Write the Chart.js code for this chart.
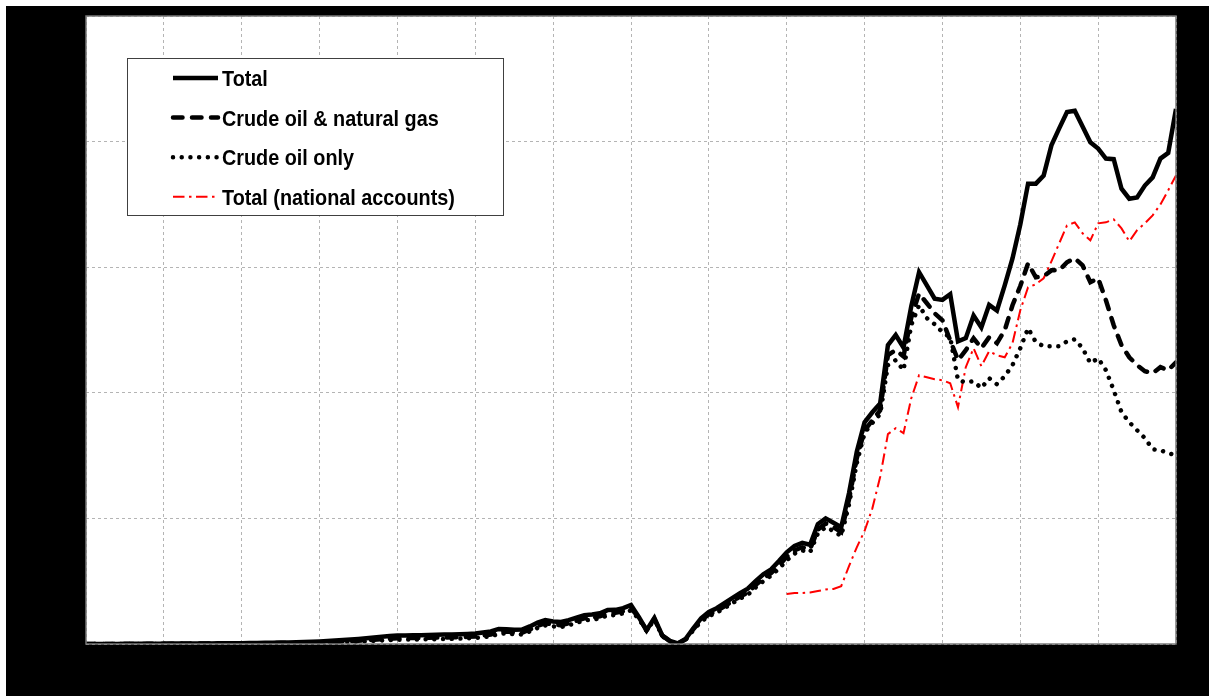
<!DOCTYPE html>
<html>
<head>
<meta charset="utf-8">
<script src="https://cdn.jsdelivr.net/npm/chart.js@4/dist/chart.umd.min.js"></script>
<style>
  html, body { margin: 0; padding: 0; background: #000; }
  #wrap { width: 1209px; height: 696px; }
  canvas { display: block; }
</style>
</head>
<body>
<div id="wrap"><canvas id="chart" width="1209" height="696"></canvas></div>
<script>
// Annual series, 1875-2015
const firstYear = 1875;
const years = Array.from({ length: 141 }, (_, i) => firstYear + i);
const gridYears = [1875, 1885, 1895, 1905, 1915, 1925, 1935, 1945, 1955, 1965, 1975, 1985, 1995, 2005, 2015];
const valueTicks = [0, 1, 2, 3, 4, 5];

const totalValues = [
  0, 0, 0, 0, 0, 0.001, 0.001, 0.001, 0.002, 0.002,
  0.002, 0.003, 0.003, 0.003, 0.004, 0.004, 0.004, 0.005, 0.005, 0.006,
  0.006, 0.007, 0.008, 0.009, 0.010, 0.011, 0.012, 0.013, 0.015, 0.017,
  0.020, 0.023, 0.027, 0.031, 0.035, 0.040, 0.046, 0.052, 0.058, 0.063,
  0.068, 0.068, 0.069, 0.070, 0.071, 0.073, 0.075, 0.076, 0.078, 0.080,
  0.083, 0.092, 0.100, 0.120, 0.118, 0.113, 0.115, 0.140, 0.170, 0.190,
  0.180, 0.175, 0.190, 0.210, 0.230, 0.235, 0.245, 0.270, 0.272, 0.285,
  0.310, 0.215, 0.110, 0.207, 0.070, 0.025, 0.004, 0.040, 0.125, 0.205,
  0.255, 0.285, 0.325, 0.365, 0.405, 0.440, 0.500, 0.555, 0.595, 0.660,
  0.730, 0.780, 0.805, 0.790, 0.955, 1.000, 0.965, 0.930, 1.200, 1.530,
  1.765, 1.845, 1.915, 2.380, 2.460, 2.360, 2.690, 2.960, 2.855, 2.750,
  2.740, 2.785, 2.410, 2.435, 2.615, 2.520, 2.700, 2.655, 2.855, 3.070,
  3.340, 3.665, 3.665, 3.730, 3.970, 4.105, 4.235, 4.245, 4.120, 3.995,
  3.945, 3.865, 3.860, 3.625, 3.545, 3.555, 3.650, 3.715, 3.865, 3.910, 4.260
];

const crudeGasValues = [
  0, 0, 0, 0, 0, 0, 0, 0, 0.001, 0.001,
  0.001, 0.002, 0.002, 0.002, 0.003, 0.003, 0.003, 0.004, 0.004, 0.004,
  0.005, 0.005, 0.006, 0.006, 0.007, 0.007, 0.008, 0.009, 0.010, 0.011,
  0.013, 0.015, 0.017, 0.020, 0.023, 0.026, 0.030, 0.034, 0.038, 0.042,
  0.046, 0.047, 0.048, 0.049, 0.050, 0.051, 0.052, 0.053, 0.055, 0.057,
  0.060, 0.068, 0.076, 0.095, 0.100, 0.092, 0.090, 0.115, 0.145, 0.165,
  0.155, 0.150, 0.165, 0.185, 0.205, 0.210, 0.220, 0.245, 0.248, 0.262,
  0.285, 0.210, 0.108, 0.200, 0.068, 0.022, 0.003, 0.036, 0.118, 0.190,
  0.235, 0.262, 0.300, 0.340, 0.378, 0.410, 0.470, 0.520, 0.565, 0.625,
  0.695, 0.745, 0.770, 0.755, 0.910, 0.960, 0.930, 0.890, 1.150, 1.480,
  1.700, 1.780, 1.860, 2.300, 2.340, 2.290, 2.600, 2.790, 2.713, 2.633,
  2.578, 2.418, 2.260, 2.339, 2.434, 2.355, 2.442, 2.395, 2.498, 2.697,
  2.850, 3.031, 2.920, 2.928, 2.975, 2.975, 3.039, 3.071, 3.015, 2.880,
  2.912, 2.737, 2.538, 2.379, 2.283, 2.220, 2.172, 2.156, 2.204, 2.180, 2.243
];

const crudeOilValues = [
  0, 0, 0, 0, 0, 0, 0, 0, 0, 0.001,
  0.001, 0.001, 0.001, 0.002, 0.002, 0.002, 0.002, 0.003, 0.003, 0.003,
  0.004, 0.004, 0.004, 0.005, 0.005, 0.006, 0.006, 0.007, 0.008, 0.009,
  0.010, 0.011, 0.013, 0.015, 0.017, 0.019, 0.022, 0.025, 0.028, 0.031,
  0.034, 0.035, 0.036, 0.037, 0.038, 0.039, 0.040, 0.041, 0.043, 0.045,
  0.048, 0.055, 0.062, 0.080, 0.085, 0.078, 0.076, 0.100, 0.128, 0.148,
  0.140, 0.135, 0.150, 0.168, 0.188, 0.193, 0.203, 0.228, 0.230, 0.244,
  0.268, 0.200, 0.104, 0.195, 0.064, 0.020, 0.002, 0.032, 0.110, 0.178,
  0.222, 0.250, 0.285, 0.325, 0.362, 0.392, 0.450, 0.500, 0.545, 0.600,
  0.665, 0.720, 0.745, 0.730, 0.880, 0.930, 0.900, 0.860, 1.110, 1.440,
  1.680, 1.760, 1.830, 2.220, 2.260, 2.180, 2.540, 2.697, 2.594, 2.546,
  2.482, 2.442, 2.100, 2.084, 2.092, 2.037, 2.116, 2.068, 2.132, 2.220,
  2.355, 2.514, 2.403, 2.371, 2.371, 2.371, 2.410, 2.426, 2.355, 2.236,
  2.275, 2.180, 2.021, 1.846, 1.766, 1.702, 1.639, 1.551, 1.543, 1.519, 1.504
];

// National accounts series starts in 1965
const nationalFirstYear = 1965;
const nationalValues = [
  0.398, 0.406, 0.406, 0.410, 0.422, 0.434, 0.438, 0.460, 0.620, 0.770,
  0.900, 1.080, 1.330, 1.671, 1.718, 1.679, 1.957, 2.140, 2.124, 2.108,
  2.100, 2.076, 1.885, 2.204, 2.355, 2.212, 2.331, 2.299, 2.283, 2.395,
  2.657, 2.840, 2.864, 2.912, 3.047, 3.190, 3.333, 3.357, 3.270, 3.214,
  3.349, 3.357, 3.381, 3.309, 3.206, 3.294, 3.349, 3.413, 3.500, 3.612, 3.731
];

const seriesLabels = ['Total', 'Crude oil & natural gas', 'Crude oil only', 'Total (national accounts)'];

const toPoints = (start, vals) => vals.map((v, i) => ({ x: start + i, y: v }));

// Page frame: black surround, white plot area
const framePlugin = {
  id: 'frame',
  beforeDraw(chart) {
    const { ctx, width, height, chartArea: a } = chart;
    ctx.save();
    ctx.fillStyle = '#ffffff';
    ctx.fillRect(0, 0, width, height);
    ctx.fillStyle = '#000000';
    ctx.fillRect(6, 6, width - 6, height - 6);
    ctx.fillStyle = '#ffffff';
    ctx.fillRect(a.left, a.top, a.right - a.left, a.bottom - a.top);
    ctx.restore();
  },
  afterDatasetsDraw(chart) {
    const { ctx, chartArea: a } = chart;
    ctx.save();
    ctx.strokeStyle = '#7a7a7a';
    ctx.lineWidth = 1.5;
    ctx.strokeRect(a.left, a.top, a.right - a.left, a.bottom - a.top);
    ctx.restore();
  }
};

// Boxed legend inside the plot area
const boxLegendPlugin = {
  id: 'boxLegend',
  afterDraw(chart, args, opts) {
    const { ctx } = chart;
    ctx.save();
    ctx.fillStyle = '#ffffff';
    ctx.fillRect(opts.x, opts.y, opts.w, opts.h);
    ctx.strokeStyle = '#404040';
    ctx.lineWidth = 1;
    ctx.strokeRect(opts.x + 0.5, opts.y + 0.5, opts.w, opts.h);
    chart.data.datasets.forEach((ds, i) => {
      const base = opts.firstBaseline + i * opts.rowGap;
      const ly = base - 8;
      ctx.save();
      ctx.strokeStyle = ds.borderColor;
      ctx.lineWidth = ds.borderWidth;
      ctx.lineCap = ds.borderCapStyle || 'butt';
      ctx.setLineDash(ds.borderDash || []);
      ctx.beginPath();
      ctx.moveTo(opts.sampleX0, ly);
      ctx.lineTo(opts.sampleX1, ly);
      ctx.stroke();
      ctx.restore();
      ctx.save();
      ctx.fillStyle = '#000000';
      ctx.font = 'bold 22px "Liberation Sans", Arial, sans-serif';
      ctx.textBaseline = 'alphabetic';
      ctx.translate(opts.textX, base);
      ctx.scale(0.9, 1);
      ctx.fillText(ds.label, 0, 0);
      ctx.restore();
    });
    ctx.restore();
  }
};

new Chart(document.getElementById('chart'), {
  type: 'line',
  data: {
    datasets: [
      {
        label: seriesLabels[0],
        data: toPoints(firstYear, totalValues),
        borderColor: '#000000',
        borderWidth: 4.5,
        borderDash: [],
        borderCapStyle: 'butt'
      },
      {
        label: seriesLabels[1],
        data: toPoints(firstYear, crudeGasValues),
        borderColor: '#000000',
        borderWidth: 4.5,
        borderDash: [9.5, 9.5],
        borderCapStyle: 'round'
      },
      {
        label: seriesLabels[2],
        data: toPoints(firstYear, crudeOilValues),
        borderColor: '#000000',
        borderWidth: 4.5,
        borderDash: [0.01, 8.7],
        borderCapStyle: 'round'
      },
      {
        label: seriesLabels[3],
        data: toPoints(nationalFirstYear, nationalValues),
        borderColor: '#ff0000',
        borderWidth: 2,
        borderDash: [11.5, 4.5, 2.5, 4.5],
        borderCapStyle: 'butt'
      }
    ]
  },
  options: {
    responsive: false,
    animation: false,
    devicePixelRatio: 1,
    clip: 0,
    layout: { padding: { left: 86, right: 33, top: 16, bottom: 52 } },
    elements: {
      point: { radius: 0, hoverRadius: 0 },
      line: { tension: 0, fill: false }
    },
    plugins: {
      legend: { display: false },
      tooltip: { enabled: false },
      boxLegend: {
        x: 127, y: 58, w: 376, h: 157,
        firstBaseline: 86, rowGap: 39.6,
        sampleX0: 173, sampleX1: 218, textX: 222
      }
    },
    scales: {
      x: {
        type: 'linear',
        min: 1875,
        max: 2015,
        afterBuildTicks(scale) { scale.ticks = gridYears.map(v => ({ value: v })); },
        afterFit(scale) { scale.height = 0; },
        ticks: { display: false },
        grid: { color: '#b4b4b4', lineWidth: 1, drawTicks: false },
        border: { display: false, dash: [3, 3] }
      },
      y: {
        type: 'linear',
        min: 0,
        max: 5,
        afterBuildTicks(scale) { scale.ticks = valueTicks.map(v => ({ value: v })); },
        afterFit(scale) { scale.width = 0; },
        ticks: { display: false },
        grid: { color: '#b4b4b4', lineWidth: 1, drawTicks: false },
        border: { display: false, dash: [3, 3] }
      }
    }
  },
  plugins: [framePlugin, boxLegendPlugin]
});
</script>
</body>
</html>
